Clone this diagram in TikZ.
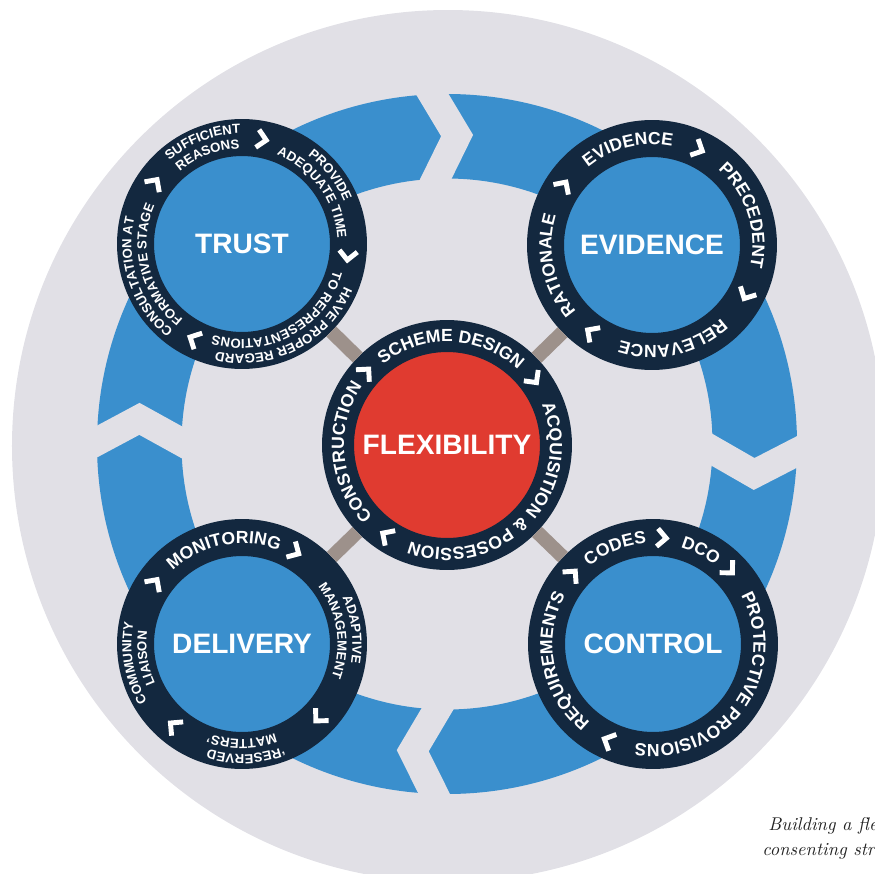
\documentclass[tikz,border=0pt]{standalone}
\usepackage{fontspec}
\setsansfont{Liberation Sans}
\usetikzlibrary{decorations.text}

\definecolor{discgrey}{HTML}{E1E0E6}
\definecolor{cycleblue}{HTML}{3A8FCD}
\definecolor{ringnavy}{HTML}{13283F}
\definecolor{flexred}{HTML}{E03B30}
\definecolor{linktaupe}{HTML}{9D918B}
\definecolor{captiongrey}{HTML}{222222}

\newcommand{\bigfont}{\sffamily\bfseries\fontsize{16}{18}\selectfont}
\newcommand{\onefont}{\sffamily\bfseries\fontsize{10}{12}\selectfont}
\newcommand{\twofont}{\sffamily\bfseries\fontsize{7.5}{9}\selectfont}

% text running clockwise round a hub
\newcommand{\ringtext}[5]{%
  \path[decorate, decoration={text along path, text align=center,
      text color=white, text={|#4|#5}}]
    ([shift={(#1)}]#3+85:#2) arc[start angle=#3+85, end angle=#3-85, radius=#2];}
% white chevron on a hub ring
\newcommand{\ringchev}[3]{\pic[rotate=#3-90] at ([shift={(#1)}]#3:#2) {chev};}

\tikzset{
  hub/.style={circle, fill=cycleblue, draw=ringnavy, line width=0.74cm,
    minimum size=4.26cm, inner sep=0pt, text=white, font=\bigfont},
  core/.style={hub, fill=flexred, line width=0.64cm, minimum size=4.36cm},
  link/.style={draw=linktaupe, line width=0.28cm},
  chev/.pic={\draw[white, line width=2.8pt] (-5,9) -- (4,0) -- (-5,-9);}
}

\begin{document}
\begin{tikzpicture}[x=0.02cm, y=0.02cm]
  \useasboundingbox (-446,-427) rectangle (429,446);

  % Draw the grey disc and the blue cycle
  \fill[discgrey] (2,0) circle (436);
  \fill[cycleblue, even odd rule] (1,2) circle (350) (1,2) circle (265.5);

  % Cut the cycle into four arrows
  \foreach \turn in {2.4, -91.3, 177.9, 89.6}
    \fill[discgrey, shift={(1,2)}, rotate=\turn]
      (-21.75,360.6) -- (7,307.75) -- (-21.75,254.9) -- (10.25,254.9)
      -- (39,307.75) -- (10.25,360.6) -- cycle;

  % Draw the hubs
  \node[core] (flex) at (1,1) {FLEXIBILITY};
  \node[hub] (trust) at (-204,202) {TRUST};
  \node[hub] (evid) at (206,201) {EVIDENCE};
  \node[hub] (ctrl) at (207,-198) {CONTROL};
  \node[hub] (deliv) at (-204,-198) {DELIVERY};

  % Link the hubs to the centre
  \foreach \hubname in {trust, evid, ctrl, deliv}
    \draw[link] (flex) -- (\hubname);

  % Flexibility ring
  \ringtext{flex}{103}{87.5}{\onefont}{SCHEME DESIGN}
  \ringtext{flex}{103}{-44}{\onefont}{ACQUISITION {\&} POSESSION}
  \ringtext{flex}{103}{184.5}{\onefont}{CONSTRUCTION}
  \ringchev{flex}{109}{37}
  \ringchev{flex}{109}{-124}
  \ringchev{flex}{109}{138}

  % Trust ring
  \ringtext{trust}{110.5}{111}{\twofont}{SUFFICIENT}
  \ringtext{trust}{95.5}{111}{\twofont}{REASONS}
  \ringtext{trust}{110.5}{38}{\twofont}{PROVIDE}
  \ringtext{trust}{95.5}{36}{\twofont}{ADEQUATE TIME}
  \ringtext{trust}{110.5}{-63}{\twofont}{HAVE PROPER REGARD}
  \ringtext{trust}{95.5}{-62}{\twofont}{TO REPRESENTATIONS}
  \ringtext{trust}{110.5}{199}{\twofont}{CONSULTATION AT}
  \ringtext{trust}{95.5}{194}{\twofont}{FORMATIVE STAGE}
  \ringchev{trust}{106.5}{79}
  \ringchev{trust}{106.5}{-6.5}
  \ringchev{trust}{106.5}{-117}
  \ringchev{trust}{106.5}{145}

  % Evidence ring
  \ringtext{evid}{100.5}{104}{\onefont}{EVIDENCE}
  \ringtext{evid}{100.5}{18}{\onefont}{PRECEDENT}
  \ringtext{evid}{100.5}{-77.5}{\onefont}{RELEVANCE}
  \ringtext{evid}{100.5}{192}{\onefont}{RATIONALE}
  \ringchev{evid}{106.5}{64}
  \ringchev{evid}{106.5}{-28}
  \ringchev{evid}{106.5}{-125}
  \ringchev{evid}{106.5}{146}

  % Control ring
  \ringtext{ctrl}{100.5}{111.5}{\onefont}{CODES}
  \ringtext{ctrl}{100.5}{63}{\onefont}{DCO}
  \ringtext{ctrl}{100.5}{-35.5}{\onefont}{PROTECTIVE PROVISIONS}
  \ringtext{ctrl}{100.5}{191}{\onefont}{REQUIREMENTS}
  \ringchev{ctrl}{106.5}{85}
  \ringchev{ctrl}{106.5}{44}
  \ringchev{ctrl}{106.5}{-115}
  \ringchev{ctrl}{106.5}{139}

  % Delivery ring
  \ringtext{deliv}{100.5}{101}{\onefont}{MONITORING}
  \ringtext{deliv}{110.5}{7.5}{\twofont}{ADAPTIVE}
  \ringtext{deliv}{95.5}{8.5}{\twofont}{MANAGEMENT}
  \ringtext{deliv}{110.5}{-88}{\twofont}{‘RESERVED}
  \ringtext{deliv}{95.5}{-90}{\twofont}{MATTERS’}
  \ringtext{deliv}{110.5}{190}{\twofont}{COMMUNITY}
  \ringtext{deliv}{95.5}{188.5}{\twofont}{LIAISON}
  \ringchev{deliv}{106.5}{60}
  \ringchev{deliv}{106.5}{-44}
  \ringchev{deliv}{106.5}{230}
  \ringchev{deliv}{106.5}{145}

  % Caption
  \node[anchor=base west, inner sep=0pt, text=captiongrey,
    font=\itshape\fontsize{10.5}{12}\selectfont] (capa) at (322,-384) {Building a fle};
  \node[anchor=base west, inner sep=0pt, text=captiongrey,
    font=\itshape\fontsize{10.5}{12}\selectfont] (capb) at (316,-409) {consenting str};
\end{tikzpicture}
\end{document}
